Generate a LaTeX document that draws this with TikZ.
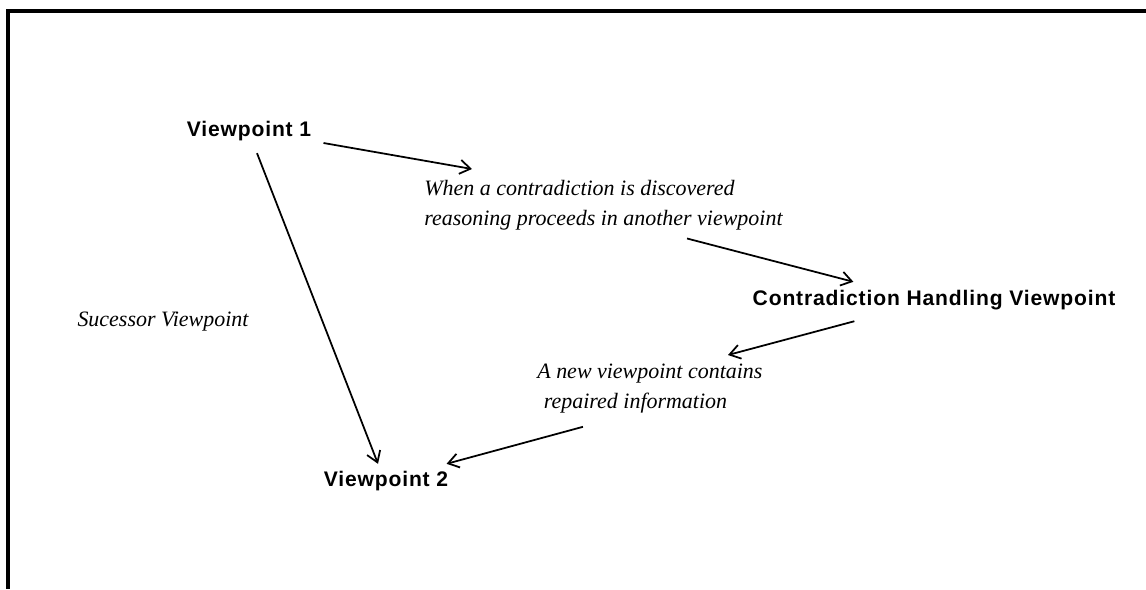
\documentclass[tikz,border=0pt]{standalone}
\usepackage{fontspec}
\setmainfont{Liberation Serif}
\newfontfamily\vpfont[LetterSpace=4]{Liberation Sans}
\usetikzlibrary{positioning,calc,arrows.meta}

\begin{document}
\begin{tikzpicture}[x=0.02cm,y=-0.02cm,
    every node/.style={inner sep=0pt},
    view/.style={font=\vpfont\bfseries\fontsize{12}{14}\selectfont},
    note/.style={font=\itshape\fontsize{12.5}{17}\selectfont,align=left},
    arr/.style={-{Straight Barb[length=6pt,width=8pt]},line width=1pt}]
  \useasboundingbox (0,0) rectangle (1146,589);
  \draw[line width=2pt] (1146,11) -- (8,11) -- (8,589);
  \node[view] (vp1) at (249,131) {Viewpoint 1};
  \node[note,anchor=north west] (when) at (424,180) {When a contradiction is discovered\\reasoning proceeds in another viewpoint};
  \node[view] (chv) at (934,300) {Contradiction Handling Viewpoint};
  \node[note,anchor=north west] (newvp) at (537,364) {A new viewpoint contains\\\hspace*{.3em}repaired information};
  \node[view] (vp2) at (386,481) {Viewpoint 2};
  \node[note] (succ) at (163,322) {Sucessor Viewpoint};
  \draw[arr] ($(vp1.east)+(12,12)$) -- ($(when.north west)+(48,-11)$);
  \draw[arr] ($(when.south west)+(263,8)$) -- ($(chv.north west)+(101,-8)$);
  \draw[arr] ($(chv.south west)+(102,11)$) -- ($(newvp.north west)+(191,-9)$);
  \draw[arr] ($(newvp.south west)+(46,13)$) -- ($(vp2.north east)+(-2,-7)$);
  \draw[arr] ($(vp1.south)+(8,12)$) -- ($(vp2.north)+(-8,-7)$);
\end{tikzpicture}
\end{document}
